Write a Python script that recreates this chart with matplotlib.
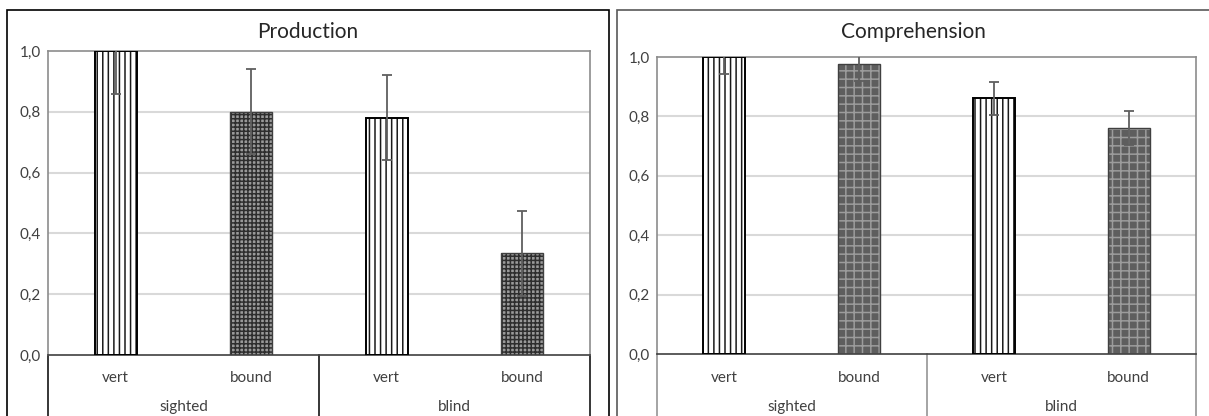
import matplotlib.pyplot as plt
import matplotlib.transforms as mtransforms
from matplotlib.patches import Rectangle

plt.rcParams['font.family'] = ['Lato', 'DejaVu Sans']
plt.rcParams['hatch.linewidth'] = 1.1

groups = ['sighted', 'blind']
conditions = ['vert', 'bound']
prod_means = [1.0, 0.80, 0.78, 0.335]
prod_err = [0.14, 0.14, 0.14, 0.14]
comp_means = [1.0, 0.978, 0.861, 0.761]
comp_err = [0.056, 0.058, 0.056, 0.057]
yticks = [0.0, 0.2, 0.4, 0.6, 0.8, 1.0]

W, H = 1209, 416
fig = plt.figure(figsize=(W / 100, H / 100), dpi=100)


def px_axes(x0, y0, x1, y1):
    return fig.add_axes([x0 / W, (H - y1) / H, (x1 - x0) / W, (y1 - y0) / H])


def frame(x0, y0, x1, y1, color):
    fig.patches.append(Rectangle((x0 / W, (H - y1) / H), (x1 - x0) / W, (y1 - y0) / H,
                                 transform=fig.transFigure, fill=False,
                                 edgecolor=color, lw=1.2))


def panel(ax, means, errs, title, title_x, bound_style, line_col):
    x = list(range(len(means)))
    bw = 0.31
    for i, m in enumerate(means):
        if i % 2 == 0:
            ax.bar(i, m, bw, color='white', edgecolor='#1a1a1a', hatch='|||', lw=0, zorder=2)
            ax.bar(i, m, bw, fill=False, edgecolor='black', lw=1.4, zorder=3)
        else:
            ax.bar(i, m, bw, color=bound_style[0], edgecolor=bound_style[1],
                   hatch=bound_style[2], lw=0, zorder=2)
            ax.bar(i, m, bw, fill=False, edgecolor='#404040', lw=1.0, zorder=3)
    ax.errorbar(x, means, yerr=errs, fmt='none', ecolor='#5f5f5f', elinewidth=1.3,
                capsize=3.5, capthick=1.3, zorder=4)
    ax.set_xlim(-0.5, len(means) - 0.5)
    ax.set_ylim(0, 1.0)
    ax.set_yticks(yticks)
    ax.set_yticklabels([f'{v:.1f}'.replace('.', ',') for v in yticks], fontsize=11, color='#404040')
    ax.set_xticks([])
    ax.tick_params(axis='y', length=0, pad=5)
    for y in yticks[1:-1]:
        ax.axhline(y, color='#d9d9d9', lw=1.5, zorder=1)
    for s in ['left', 'right', 'top']:
        ax.spines[s].set_color('#8c8c8c')
        ax.spines[s].set_linewidth(1.2)
    ax.spines['bottom'].set_color('#404040')
    ax.spines['bottom'].set_linewidth(1.2)
    # category axis below the plot
    for xs in [-0.5, 1.5, 3.5]:
        ax.plot([xs, xs], [0, -0.3], color=line_col, lw=1.1, clip_on=False)
    tr = mtransforms.blended_transform_factory(ax.transData, fig.transFigure)
    for i in x:
        ax.text(i, (H - 378) / H, conditions[i % 2], transform=tr, ha='center',
                va='center', fontsize=11, color='#404040')
    for g, name in enumerate(groups):
        ax.text(2 * g + 0.5, (H - 407) / H, name, transform=tr, ha='center',
                va='center', fontsize=11, color='#404040')
    fig.text(title_x / W, (H - 32) / H, title, ha='center', va='center',
             fontsize=15, color='#262626')


frame(7, 10, 609, 430, 'black')
frame(617, 10, 1225, 430, '#595959')

ax1 = px_axes(48, 51, 590, 355)
panel(ax1, prod_means, prod_err, 'Production', 308,
      ('#9a9a9a', '#2e2e2e', '++++'), 'black')

ax2 = px_axes(657, 57, 1196, 354)
panel(ax2, comp_means, comp_err, 'Comprehension', 913,
      ('#5e5e5e', '#9c9c9c', '++'), '#8c8c8c')

fig.savefig('out.png', dpi=100)
